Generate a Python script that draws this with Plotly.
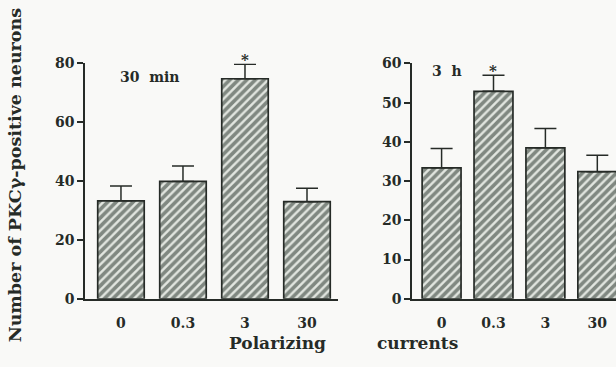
import plotly.graph_objects as go

categories = ["0", "0.3", "3", "30"]
means_30min = [33.3, 39.9, 74.8, 33.0]
sem_30min = [5.0, 5.2, 4.9, 4.6]
means_3h = [33.4, 52.9, 38.5, 32.4]
sem_3h = [4.9, 4.1, 4.9, 4.2]
sig_30min = [False, False, True, False]
sig_3h = [False, True, False, False]
yticks_30min = [0, 20, 40, 60, 80]
yticks_3h = [0, 10, 20, 30, 40, 50, 60]

FONT = "DejaVu Serif"
INK = "#262b27"
W, H = 616, 367

fig = go.Figure()

def bar_trace(vals, errs, xa, ya):
    return go.Bar(
        x=list(range(len(categories))), y=vals, xaxis=xa, yaxis=ya,
        width=0.75,
        marker=dict(color="#e2e6e0",
                    line=dict(color=INK, width=1.7),
                    pattern=dict(shape="/", fgcolor="#1e2a22", bgcolor="#e2e6e0",
                                 size=6, solidity=0.6)),
        error_y=dict(type="data", symmetric=False, array=errs,
                     arrayminus=[0] * len(errs), color=INK, thickness=1.5, width=11),
        showlegend=False,
    )

fig.add_trace(bar_trace(means_30min, sem_30min, "x", "y"))
fig.add_trace(bar_trace(means_3h, sem_3h, "x2", "y2"))

ydom = [(H - 304) / H, (H - 58) / H]
tickfont = dict(family=FONT, size=14, color=INK, weight="bold")

common_x = dict(tickmode="array", tickvals=list(range(4)), ticktext=categories,
                showline=True, linecolor=INK, linewidth=1.5, ticks="outside",
                ticklen=11, tickcolor="rgba(0,0,0,0)", showgrid=False,
                zeroline=False, tickfont=tickfont)
common_y = dict(showline=True, linecolor=INK, linewidth=1.5, ticks="outside",
                ticklen=6, tickcolor=INK, tickwidth=1.5, showgrid=False,
                zeroline=False, tickfont=tickfont, domain=ydom)

fig.update_layout(
    width=W, height=H,
    margin=dict(l=0, r=0, t=0, b=0),
    paper_bgcolor="#f9f9f7", plot_bgcolor="rgba(0,0,0,0)",
    xaxis=dict(domain=[85 / W, 338 / W], range=[-0.58, 3.5], anchor="y", **common_x),
    yaxis=dict(range=[0, 80], tickvals=yticks_30min, anchor="x", **common_y),
    xaxis2=dict(domain=[412 / W, 1.0], range=[-0.57, 3.36], anchor="y2", **common_x),
    yaxis2=dict(range=[0, 60], tickvals=yticks_3h, anchor="x2", **common_y),
)

star_font = dict(family=FONT, size=15, color=INK, weight="bold")
annos = []
for i, s in enumerate(sig_30min):
    if s:
        annos.append(dict(x=i, y=means_30min[i] + sem_30min[i], xref="x", yref="y",
                          text="*", showarrow=False, yanchor="middle", yshift=4,
                          font=star_font))
for i, s in enumerate(sig_3h):
    if s:
        annos.append(dict(x=i, y=means_3h[i] + sem_3h[i], xref="x2", yref="y2",
                          text="*", showarrow=False, yanchor="middle", yshift=4,
                          font=star_font))

def ptext(x, y, text, size, **kw):
    return dict(x=x / W, y=(H - y) / H, xref="paper", yref="paper",
                xanchor=kw.pop("xanchor", "center"), yanchor="middle",
                text=text, showarrow=False,
                font=dict(family=FONT, size=size, color=INK, weight="bold"), **kw)

annos += [
    ptext(118, 72, "30&nbsp; min", 14, xanchor="left"),
    ptext(430, 66, "3&nbsp; h", 14, xanchor="left"),
    ptext(277, 350, "Polarizing", 17),
    ptext(417, 350, "currents", 17),
    ptext(15, 175, "Number of PKCγ-positive neurons", 17.5, textangle=-90),
]
fig.update_layout(annotations=annos)

css_js = (
    "var s=document.createElement('style');"
    "s.textContent='html,body{margin:0;padding:0;overflow:hidden;}"
    ".plotly-graph-div{display:block;}';"
    "document.head.appendChild(s);"
    "window.dispatchEvent(new Event('resize'));"
)
fig.write_html("out.html", config={"displayModeBar": False}, post_script=css_js)
